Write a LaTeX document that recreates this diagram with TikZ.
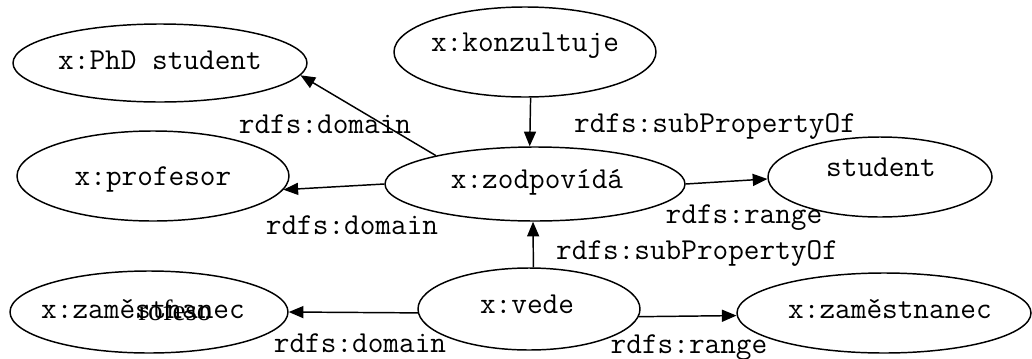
\documentclass[tikz,border=0pt]{standalone}
\usepackage{fontspec}
\newfontfamily\patkovy{Liberation Serif}
\usepackage{tikz}
\usetikzlibrary{arrows.meta,shapes.geometric}

\begin{document}
\begin{tikzpicture}[x=.75pt,y=-.75pt,>={Triangle[length=11pt,width=9pt]},
  trida/.style={draw,ellipse,line width=1.1pt,inner sep=0pt},
  popis/.style={font=\fontsize{22.8}{26}\selectfont\ttfamily,anchor=base,inner sep=0pt},
  hrana/.style={->,line width=1.1pt}]
  \useasboundingbox (0,0) rectangle (1032,358);

  % Elipsy bez textu, aby jejich velikost neurčoval text; texty zvlášť.
  \node[trida,minimum width=220.5pt,minimum height=58.5pt] (phd) at (160,63) {};
  \node[trida,minimum width=196.5pt,minimum height=67.5pt] (konz) at (525,52) {};
  \node[trida,minimum width=204pt,minimum height=67.5pt] (prof) at (153,176) {};
  \node[trida,minimum width=225pt,minimum height=55.5pt] (zod) at (535,184) {};
  \node[trida,minimum width=168pt,minimum height=60pt] (stud) at (880,177) {};
  \node[trida,minimum width=166.5pt,minimum height=61.5pt] (vede) at (529,309) {};
  \node[trida,minimum width=208.5pt,minimum height=61.5pt] (zam1) at (149,312) {};
  \node[trida,minimum width=220.5pt,minimum height=60pt] (zam2) at (884,313) {};

  \node[popis] (phd-t) at (160,69) {x:PhD student};
  \node[popis] (konz-t) at (525,51) {x:konzultuje};
  \node[popis] (prof-t) at (153,185) {x:profesor};
  \node[popis] (zod-t) at (537,188) {x:zodpovídá};
  \node[popis] (stud-t) at (881,176) {student};
  \node[popis] (vede-t) at (527,313) {x:vede};
  \node[popis] (zam1-t) at (143,318) {x:zaměstnanec};
  \node[popis] (zam2-t) at (890,318) {x:zaměstnanec};
  \node[popis,font=\fontsize{22}{26}\selectfont\patkovy] (zam1-p) at (175,320) {rofeso};

  \draw[hrana] (zod.164) -- (phd.-5);
  \draw[hrana] (konz.-83) -- (zod.98);
  \draw[hrana] (zod.180) -- (prof.-6);
  \draw[hrana] (zod.0) -- (stud.181);
  \draw[hrana] (vede.84) -- (zod.267);
  \draw[hrana] (vede.182) -- (zam1.0);
  \draw[hrana] (vede.-4) -- (zam2.181);

  \node[popis] (l1) at (325,133) {rdfs:domain};
  \node[popis] (l2) at (715,132) {rdfs:subPropertyOf};
  \node[popis] (l3) at (352,234) {rdfs:domain};
  \node[popis] (l4) at (744,223) {rdfs:range};
  \node[popis] (l5) at (697,259) {rdfs:subPropertyOf};
  \node[popis] (l6) at (360,352) {rdfs:domain};
  \node[popis] (l7) at (689,353) {rdfs:range};
\end{tikzpicture}
\end{document}
